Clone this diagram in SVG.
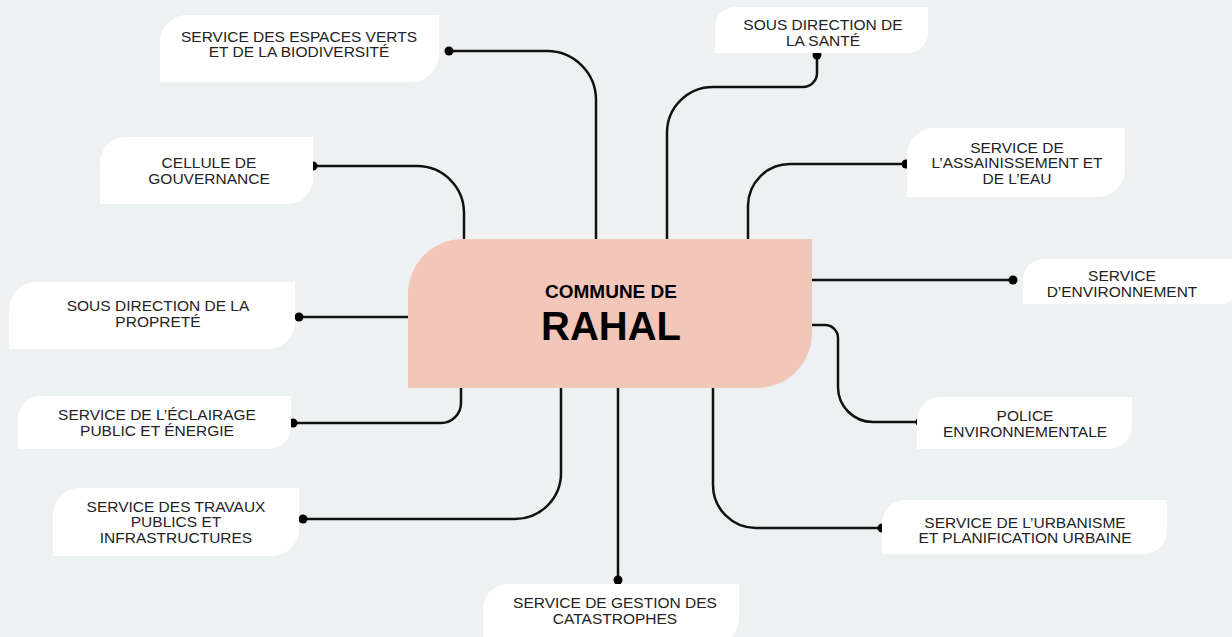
<svg xmlns="http://www.w3.org/2000/svg" width="1232" height="637" viewBox="0 0 1232 637">
  <style>
    .box { fill: #ffffff; }
    .center { fill: #f2c6b9; }
    .lbl { font-family: "Liberation Sans", Arial, sans-serif; font-size: 15.5px; fill: #232323; text-anchor: middle; }
    .title { font-family: "Liberation Sans", Arial, sans-serif; font-weight: bold; fill: #000; text-anchor: middle; }
    .conn { fill: none; stroke: #111; stroke-width: 2.5; }
    .dot { fill: #000; }
  </style>
  <rect width="1232" height="637" fill="#eef1f2"/>

  <g id="connectors">
    <path class="conn" d="M449,51 H547 A49,49 0 0 1 596,100 V240"/>
    <path class="conn" d="M313,166 H417 A47,47 0 0 1 464,213 V240"/>
    <path class="conn" d="M817,55 V73 A14,14 0 0 1 803,87 H713 A46,46 0 0 0 667,133 V240"/>
    <path class="conn" d="M906,164 H790 A42,42 0 0 0 748,206 V240"/>
    <path class="conn" d="M811,280 H1013"/>
    <path class="conn" d="M811,325 H825 A13,13 0 0 1 838,338 V387 A35,35 0 0 0 873,422 H920"/>
    <path class="conn" d="M713,387 V485 A43,43 0 0 0 756,528 H882"/>
    <path class="conn" d="M618,387 V580"/>
    <path class="conn" d="M561,387 V473 A46,46 0 0 1 515,519 H303"/>
    <path class="conn" d="M461,387 V403 A20,20 0 0 1 441,423 H293"/>
    <path class="conn" d="M409,317 H299"/>
    <circle class="dot" cx="449" cy="51" r="4.5"/>
    <circle class="dot" cx="313" cy="166" r="4.5"/>
    <circle class="dot" cx="817" cy="55" r="4.5"/>
    <circle class="dot" cx="906" cy="164" r="4.5"/>
    <circle class="dot" cx="1013" cy="280" r="4.5"/>
    <circle class="dot" cx="920" cy="422" r="4.5"/>
    <circle class="dot" cx="882" cy="528" r="4.5"/>
    <circle class="dot" cx="618" cy="580" r="4.5"/>
    <circle class="dot" cx="303" cy="519" r="4.5"/>
    <circle class="dot" cx="293" cy="423" r="4.5"/>
    <circle class="dot" cx="299" cy="317" r="4.5"/>
  </g>

  <g id="center-node">
    <path class="center" d="M463,239 H812 V333 A55,55 0 0 1 757,388 H408 V294 A55,55 0 0 1 463,239 Z"/>
    <text class="title" x="611" y="298" font-size="19">COMMUNE DE</text>
    <text class="title" x="611" y="340" font-size="40">RAHAL</text>
  </g>

  <g id="node-espaces-verts">
    <path class="box" d="M187,15 H439 V55 A27,27 0 0 1 412,82 H160 V42 A27,27 0 0 1 187,15 Z"/>
    <text class="lbl" x="299" y="42">SERVICE DES ESPACES VERTS</text>
    <text class="lbl" x="299" y="57">ET DE LA BIODIVERSITÉ</text>
  </g>

  <g id="node-gouvernance">
    <path class="box" d="M126,137 H313 V178 A26,26 0 0 1 287,204 H100 V163 A26,26 0 0 1 126,137 Z"/>
    <text class="lbl" x="209" y="168">CELLULE DE</text>
    <text class="lbl" x="209" y="184">GOUVERNANCE</text>
  </g>

  <g id="node-proprete">
    <path class="box" d="M36,282 H295 V322 A27,27 0 0 1 268,349 H9 V309 A27,27 0 0 1 36,282 Z"/>
    <text class="lbl" x="158" y="311">SOUS DIRECTION DE LA</text>
    <text class="lbl" x="158" y="327">PROPRETÉ</text>
  </g>

  <g id="node-eclairage">
    <path class="box" d="M40,396 H291 V427 A22,22 0 0 1 269,449 H18 V418 A22,22 0 0 1 40,396 Z"/>
    <text class="lbl" x="157" y="420">SERVICE DE L’ÉCLAIRAGE</text>
    <text class="lbl" x="157" y="436">PUBLIC ET ÉNERGIE</text>
  </g>

  <g id="node-travaux">
    <path class="box" d="M80,488 H299 V529 A27,27 0 0 1 272,556 H53 V515 A27,27 0 0 1 80,488 Z"/>
    <text class="lbl" x="176" y="512">SERVICE DES TRAVAUX</text>
    <text class="lbl" x="176" y="527">PUBLICS ET</text>
    <text class="lbl" x="176" y="543">INFRASTRUCTURES</text>
  </g>

  <g id="node-catastrophes">
    <path class="box" d="M508,584 H739 V619 A25,25 0 0 1 714,644 H483 V609 A25,25 0 0 1 508,584 Z"/>
    <text class="lbl" x="615" y="608">SERVICE DE GESTION DES</text>
    <text class="lbl" x="615" y="624">CATASTROPHES</text>
  </g>

  <g id="node-sante">
    <path class="box" d="M735,7 H928 V33 A20,20 0 0 1 908,53 H715 V27 A20,20 0 0 1 735,7 Z"/>
    <text class="lbl" x="823" y="30">SOUS DIRECTION DE</text>
    <text class="lbl" x="823" y="46">LA SANTÉ</text>
  </g>

  <g id="node-assainissement">
    <path class="box" d="M934,128 H1125 V170 A27,27 0 0 1 1098,197 H907 V155 A27,27 0 0 1 934,128 Z"/>
    <text class="lbl" x="1017" y="153">SERVICE DE</text>
    <text class="lbl" x="1017" y="168">L’ASSAINISSEMENT ET</text>
    <text class="lbl" x="1017" y="184">DE L’EAU</text>
  </g>

  <g id="node-environnement">
    <path class="box" d="M1044,259 H1240 V284 A20,20 0 0 1 1220,304 H1023 V280 A21,21 0 0 1 1044,259 Z"/>
    <text class="lbl" x="1122" y="281">SERVICE</text>
    <text class="lbl" x="1122" y="297">D’ENVIRONNEMENT</text>
  </g>

  <g id="node-police">
    <path class="box" d="M940,397 H1132 V426 A23,23 0 0 1 1109,449 H917 V420 A23,23 0 0 1 940,397 Z"/>
    <text class="lbl" x="1025" y="421">POLICE</text>
    <text class="lbl" x="1025" y="437">ENVIRONNEMENTALE</text>
  </g>

  <g id="node-urbanisme">
    <path class="box" d="M905,500 H1167 V531 A23,23 0 0 1 1144,554 H882 V523 A23,23 0 0 1 905,500 Z"/>
    <text class="lbl" x="1025" y="528">SERVICE DE L’URBANISME</text>
    <text class="lbl" x="1025" y="543">ET PLANIFICATION URBAINE</text>
  </g>
</svg>
